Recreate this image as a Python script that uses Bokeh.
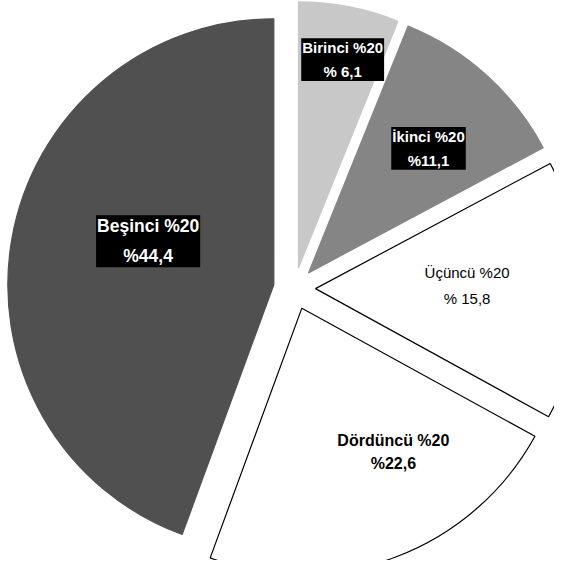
import numpy as np
from bokeh.plotting import figure
from bokeh.models import Range1d, ColumnDataSource
from bokeh.core.properties import value
from bokeh.embed import file_html
from bokeh.resources import INLINE

# ---- data ----
names = ["Birinci %20", "İkinci %20", "Üçüncü %20", "Dördüncü %20", "Beşinci %20"]
shares = [6.1, 11.1, 15.8, 22.6, 44.4]
share_labels = ["% 6,1", "%11,1", "% 15,8", "%22,6", "%44,4"]
colors = ["#c8c8c8", "#858585", "#ffffff", "#ffffff", "#505050"]
line_colors = ["#c8c8c8", "#858585", "#000000", "#000000", "#505050"]
dark_label = [True, True, False, False, True]

# ---- layout ----
CX, CY = 294.0, 288.0      # pie centre (data units == pixels)
R = 266.0                   # radius
D = 21.0                    # explode distance
label_frac = [0.80, 0.65, 0.57, 0.64, 0.50]
label_rot = [1.0, 2.0, -1.5, -12.0, 9.0]
label_size = ["15px", "15px", "15px", "16px", "17.5px"]
label_lh = [1.4, 1.4, 1.5, 1.35, 1.5]

vals = np.array(shares, dtype=float)
cum = np.cumsum(vals)
t2 = cum / cum[-1] * 360.0
t1 = np.concatenate([[0.0], t2[:-1]])
mid = (t1 + t2) / 2.0

xs = CX + D * np.sin(np.radians(mid))
ys = CY + D * np.cos(np.radians(mid))
start = np.radians(90.0 - t2)
end = np.radians(90.0 - t1)

src = ColumnDataSource(dict(x=xs, y=ys, start=start, end=end, fill=colors, line=line_colors))

p = figure(width=554, height=560, output_backend="svg", toolbar_location=None,
           x_range=Range1d(0, 554), y_range=Range1d(16, 576), min_border=0)
p.axis.visible = False
p.grid.visible = False
p.outline_line_color = None
p.background_fill_color = "white"

p.wedge(x="x", y="y", radius=R, start_angle="start", end_angle="end",
        fill_color="fill", line_color="line", line_width=1.2, source=src)

la = np.radians(mid + np.array(label_rot))
lx = xs + np.array(label_frac) * R * np.sin(la)
ly = ys + np.array(label_frac) * R * np.cos(la)

for i in range(len(names)):
    txt = names[i] + "\n" + share_labels[i]
    if dark_label[i]:
        p.text(x=[lx[i]], y=[ly[i]], text=[txt], text_align="center", text_baseline="middle",
               text_font=value("Liberation Sans"), text_font_style="bold",
               text_font_size=label_size[i], text_color="white", text_line_height=label_lh[i],
               background_fill_color="black", padding=1)
    else:
        p.text(x=[lx[i]], y=[ly[i]], text=[txt], text_align="center", text_baseline="middle",
               text_font=value("Liberation Sans"),
               text_font_style="bold" if i == 3 else "normal",
               text_font_size=label_size[i], text_color="black", text_line_height=label_lh[i])

open("out.html", "w").write(file_html(p, INLINE))
